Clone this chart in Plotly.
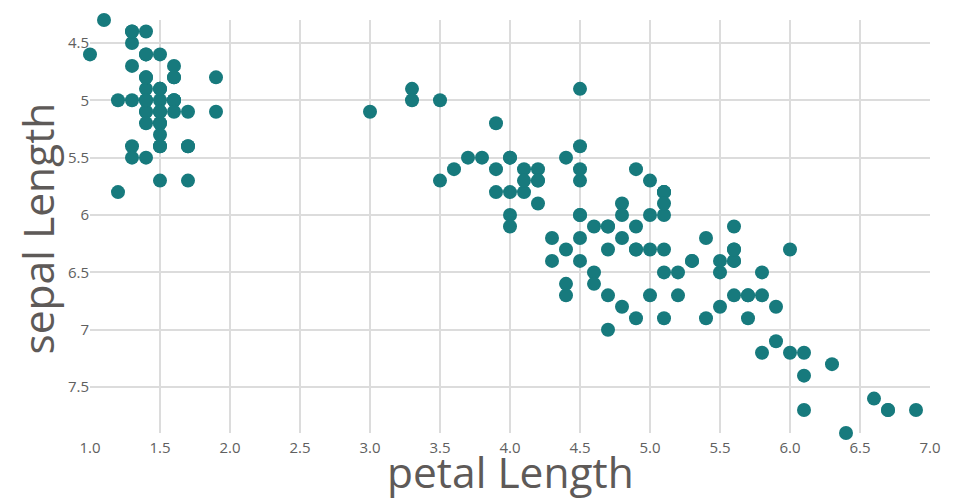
import plotly.graph_objects as go

petal_length = [
    1.4, 1.4, 1.3, 1.5, 1.4, 1.7, 1.4, 1.5, 1.4, 1.5,
    1.5, 1.6, 1.4, 1.1, 1.2, 1.5, 1.3, 1.4, 1.7, 1.5,
    1.7, 1.5, 1.0, 1.7, 1.9, 1.6, 1.6, 1.5, 1.4, 1.6,
    1.6, 1.5, 1.5, 1.4, 1.5, 1.2, 1.3, 1.5, 1.3, 1.5,
    1.3, 1.3, 1.3, 1.6, 1.9, 1.4, 1.6, 1.4, 1.5, 1.4,
    4.7, 4.5, 4.9, 4.0, 4.6, 4.5, 4.7, 3.3, 4.6, 3.9,
    3.5, 4.2, 4.0, 4.7, 3.6, 4.4, 4.5, 4.1, 4.5, 3.9,
    4.8, 4.0, 4.9, 4.7, 4.3, 4.4, 4.8, 5.0, 4.5, 3.5,
    3.8, 3.7, 3.9, 5.1, 4.5, 4.5, 4.7, 4.4, 4.1, 4.0,
    4.4, 4.6, 4.0, 3.3, 4.2, 4.2, 4.2, 4.3, 3.0, 4.1,
    6.0, 5.1, 5.9, 5.6, 5.8, 6.6, 4.5, 6.3, 5.8, 6.1,
    5.1, 5.3, 5.5, 5.0, 5.1, 5.3, 5.5, 6.7, 6.9, 5.0,
    5.7, 4.9, 6.7, 4.9, 5.7, 6.0, 4.8, 4.9, 5.6, 5.8,
    6.1, 6.4, 5.6, 5.1, 5.6, 6.1, 5.6, 5.5, 4.8, 5.4,
    5.6, 5.1, 5.1, 5.9, 5.7, 5.2, 5.0, 5.2, 5.4, 5.1,
]
sepal_length = [
    5.1, 4.9, 4.7, 4.6, 5.0, 5.4, 4.6, 5.0, 4.4, 4.9,
    5.4, 4.8, 4.8, 4.3, 5.8, 5.7, 5.4, 5.1, 5.7, 5.1,
    5.4, 5.1, 4.6, 5.1, 4.8, 5.0, 5.0, 5.2, 5.2, 4.7,
    4.8, 5.4, 5.2, 5.5, 4.9, 5.0, 5.5, 4.9, 4.4, 5.1,
    5.0, 4.5, 4.4, 5.0, 5.1, 4.8, 5.1, 4.6, 5.3, 5.0,
    7.0, 6.4, 6.9, 5.5, 6.5, 5.7, 6.3, 4.9, 6.6, 5.2,
    5.0, 5.9, 6.0, 6.1, 5.6, 6.7, 5.6, 5.8, 6.2, 5.6,
    5.9, 6.1, 6.3, 6.1, 6.4, 6.6, 6.8, 6.7, 6.0, 5.7,
    5.5, 5.5, 5.8, 6.0, 5.4, 6.0, 6.7, 6.3, 5.6, 5.5,
    5.5, 6.1, 5.8, 5.0, 5.6, 5.7, 5.7, 6.2, 5.1, 5.7,
    6.3, 5.8, 7.1, 6.3, 6.5, 7.6, 4.9, 7.3, 6.7, 7.2,
    6.5, 6.4, 6.8, 5.7, 5.8, 6.4, 6.5, 7.7, 7.7, 6.0,
    6.9, 5.6, 7.7, 6.3, 6.7, 7.2, 6.2, 6.1, 6.4, 7.2,
    7.4, 7.9, 6.4, 6.3, 6.1, 7.7, 6.3, 6.4, 6.0, 6.9,
    6.7, 6.9, 5.8, 6.8, 6.7, 6.7, 6.3, 6.5, 6.2, 5.9,
]

x_title = "petal Length"
y_title = "sepal Length"

FONT = "Open Sans, Lato, sans-serif"
GRID = "#dcdcdc"
TEXT = "#606060"
TITLE = "#5e5a58"

fig = go.Figure(
    go.Scatter(
        x=petal_length,
        y=sepal_length,
        mode="markers",
        marker=dict(color="#177a7d", size=14, line=dict(width=0)),
        cliponaxis=False,
        hoverinfo="x+y",
    )
)

fig.update_layout(
    width=960,
    height=500,
    margin=dict(l=82, r=38, t=12, b=75, autoexpand=False),
    paper_bgcolor="white",
    plot_bgcolor="white",
    showlegend=False,
    font=dict(family=FONT, color=TEXT),
    annotations=[
        dict(text=x_title, xref="paper", yref="paper", x=0.5, y=0,
             xanchor="center", yanchor="middle", yshift=-38, showarrow=False,
             font=dict(family=FONT, size=42.5, color=TITLE)),
        dict(text=y_title, xref="paper", yref="paper", x=0, y=0.5,
             xanchor="center", yanchor="middle", xshift=-53, yshift=-2,
             textangle=-90, showarrow=False,
             font=dict(family=FONT, size=42.5, color=TITLE)),
    ],
)

fig.update_xaxes(
    range=[1.0, 7.0],
    dtick=0.5,
    tick0=1.0,
    tickformat=".1f",
    showgrid=True,
    gridcolor=GRID,
    gridwidth=1.5,
    zeroline=False,
    showline=False,
    ticks="",
    ticklabelstandoff=4,
    automargin=False,
    tickfont=dict(family=FONT, size=15, color=TEXT),
)

fig.update_yaxes(
    range=[7.9, 4.3],
    dtick=0.5,
    tick0=4.5,
    showgrid=True,
    gridcolor=GRID,
    gridwidth=1.5,
    zeroline=False,
    showline=False,
    ticks="",
    automargin=False,
    tickfont=dict(family=FONT, size=15, color=TEXT),
)

fig.write_html("out.html")
